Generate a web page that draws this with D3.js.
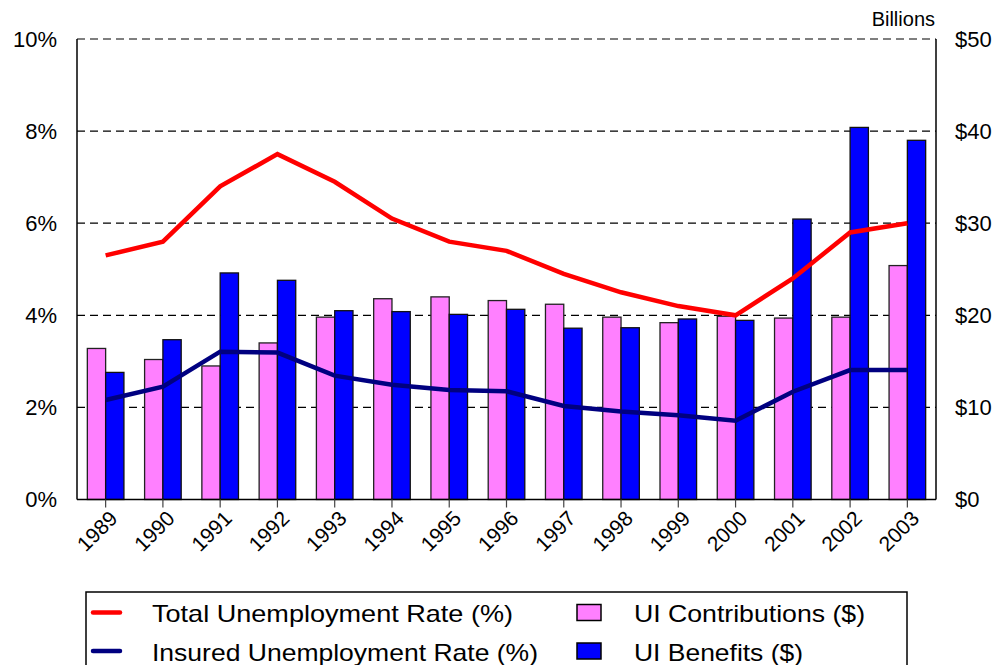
<!DOCTYPE html>
<html>
<head>
<meta charset="utf-8">
<script src="https://cdn.jsdelivr.net/npm/d3@7"></script>
<style>
  body { margin: 0; background: #fff; }
  text { font-family: "Liberation Sans", Arial, sans-serif; }
</style>
</head>
<body>
<svg id="canvas" width="999" height="665"></svg>
<script>
let years = ['1989','1990','1991','1992','1993','1994','1995','1996','1997','1998','1999','2000','2001','2002','2003']
let totalRate = [5.3, 5.6, 6.8, 7.5, 6.9, 6.1, 5.6, 5.4, 4.9, 4.5, 4.2, 4.0, 4.8, 5.8, 6.0]
let insuredRate = [2.16, 2.45, 3.21, 3.19, 2.69, 2.49, 2.38, 2.35, 2.03, 1.91, 1.83, 1.71, 2.34, 2.81, 2.81]
let contributions = [16.4, 15.2, 14.5, 17.0, 19.8, 21.8, 22.0, 21.6, 21.2, 19.8, 19.2, 19.9, 19.7, 19.8, 25.4]
let benefits = [13.8, 17.35, 24.6, 23.8, 20.5, 20.4, 20.1, 20.65, 18.6, 18.65, 19.6, 19.45, 30.45, 40.4, 39.0]
let pctTicks = [0, 2, 4, 6, 8, 10]
let dollarTicks = [0, 10, 20, 30, 40, 50]

let canvas = d3.select('#canvas')

let plotLeft = 77, plotRight = 936, plotTop = 39, plotBottom = 499.5

let x = d3.scaleBand().domain(years).range([plotLeft, plotRight])
let yPct = d3.scaleLinear().domain([0, 10]).range([plotBottom, plotTop])
let yDol = d3.scaleLinear().domain([0, 50]).range([plotBottom, plotTop])
let barW = 18.3

// dashed gridlines
canvas.selectAll('.grid')
    .data(pctTicks.slice(1))
    .enter()
    .append('line')
    .attr('x1', plotLeft).attr('x2', plotRight)
    .attr('y1', d => yPct(d)).attr('y2', d => yPct(d))
    .attr('stroke', '#000')
    .attr('stroke-width', 1.2)
    .attr('stroke-dasharray', '8,5')

// bars
let center = (d) => x(d) + x.bandwidth() / 2

canvas.selectAll('.contrib')
    .data(years)
    .enter()
    .append('rect')
    .attr('x', (d) => center(d) - barW)
    .attr('y', (d, i) => yDol(contributions[i]))
    .attr('width', barW)
    .attr('height', (d, i) => plotBottom - yDol(contributions[i]))
    .attr('fill', '#ff80ff')
    .attr('stroke', '#222')
    .attr('stroke-width', 1.3)

canvas.selectAll('.benefit')
    .data(years)
    .enter()
    .append('rect')
    .attr('x', (d) => center(d))
    .attr('y', (d, i) => yDol(benefits[i]))
    .attr('width', barW)
    .attr('height', (d, i) => plotBottom - yDol(benefits[i]))
    .attr('fill', '#0000ff')
    .attr('stroke', '#111')
    .attr('stroke-width', 1.3)

// axis frame
canvas.append('line')
    .attr('x1', plotLeft).attr('x2', plotLeft).attr('y1', plotTop).attr('y2', plotBottom)
    .attr('stroke', '#000').attr('stroke-width', 1.5)
canvas.append('line')
    .attr('x1', plotRight).attr('x2', plotRight).attr('y1', plotTop).attr('y2', plotBottom)
    .attr('stroke', '#000').attr('stroke-width', 1.5)
canvas.append('line')
    .attr('x1', plotLeft).attr('x2', plotRight).attr('y1', plotBottom).attr('y2', plotBottom)
    .attr('stroke', '#000').attr('stroke-width', 1.5)

// lines
let lineGen = (vals) => d3.line()
    .x((d, i) => center(years[i]))
    .y((d) => yPct(d))(vals)

canvas.append('path')
    .attr('d', lineGen(totalRate))
    .attr('fill', 'none')
    .attr('stroke', '#ff0000')
    .attr('stroke-width', 4.5)

canvas.append('path')
    .attr('d', lineGen(insuredRate))
    .attr('fill', 'none')
    .attr('stroke', '#000080')
    .attr('stroke-width', 4.5)

// x axis
let xAxis = d3.axisBottom(x).tickSize(8).tickSizeOuter(0)
let xg = canvas.append('g')
    .attr('transform', 'translate(0,' + plotBottom + ')')
    .call(xAxis)
xg.select('.domain').remove()
xg.selectAll('line').attr('stroke', '#444').attr('stroke-width', 1.2)
xg.selectAll('text')
    .attr('font-size', 21)
    .attr('fill', '#000')
    .attr('text-anchor', 'end')
    .attr('dy', '0.35em')
    .attr('dx', 0)
    .attr('transform', 'translate(8,15) rotate(-45)')
    .attr('y', 0)
    .attr('x', 0)

// left axis
let ly = d3.axisLeft(yPct).tickValues(pctTicks).tickSize(0).tickPadding(20).tickFormat(d => d + '%')
let lg = canvas.append('g').attr('transform', 'translate(' + plotLeft + ',0)').call(ly)
lg.select('.domain').remove()
lg.selectAll('text').attr('font-size', 22).attr('fill', '#000')

// right axis
let ry = d3.axisRight(yDol).tickValues(dollarTicks).tickSize(0).tickPadding(19).tickFormat(d => '$' + d)
let rg = canvas.append('g').attr('transform', 'translate(' + plotRight + ',0)').call(ry)
rg.select('.domain').remove()
rg.selectAll('text').attr('font-size', 22).attr('fill', '#000')

canvas.append('text')
    .attr('x', 935).attr('y', 26)
    .attr('text-anchor', 'end')
    .attr('font-size', 20)
    .text('Billions')

// legend
canvas.append('rect')
    .attr('x', 86).attr('y', 592)
    .attr('width', 821).attr('height', 90)
    .attr('fill', '#fff')
    .attr('stroke', '#000')
    .attr('stroke-width', 1.5)

let legendItems = [
    { label: 'Total Unemployment Rate (%)', type: 'line', color: '#ff0000', ly: 612.5, tw: 361 },
    { label: 'Insured Unemployment Rate (%)', type: 'line', color: '#000080', ly: 651, tw: 386 },
    { label: 'UI Contributions ($)', type: 'rect', color: '#ff80ff', ly: 612.5, tw: 231 },
    { label: 'UI Benefits ($)', type: 'rect', color: '#0000ff', ly: 651, tw: 169 }
]

legendItems.forEach((item) => {
    if (item.type === 'line') {
        canvas.append('line')
            .attr('x1', 93).attr('x2', 120)
            .attr('y1', item.ly).attr('y2', item.ly)
            .attr('stroke', item.color).attr('stroke-width', 4.5)
            .attr('stroke-linecap', 'round')
        canvas.append('text')
            .attr('x', 152).attr('y', item.ly + 9.5)
            .attr('font-size', 24)
            .attr('textLength', item.tw)
            .attr('lengthAdjust', 'spacingAndGlyphs')
            .text(item.label)
    } else {
        canvas.append('rect')
            .attr('x', 577).attr('y', item.ly - 8)
            .attr('width', 24).attr('height', 16)
            .attr('fill', item.color)
            .attr('stroke', '#000').attr('stroke-width', 1.5)
        canvas.append('text')
            .attr('x', 634).attr('y', item.ly + 9.5)
            .attr('font-size', 24)
            .attr('textLength', item.tw)
            .attr('lengthAdjust', 'spacingAndGlyphs')
            .text(item.label)
    }
})
</script>
</body>
</html>
